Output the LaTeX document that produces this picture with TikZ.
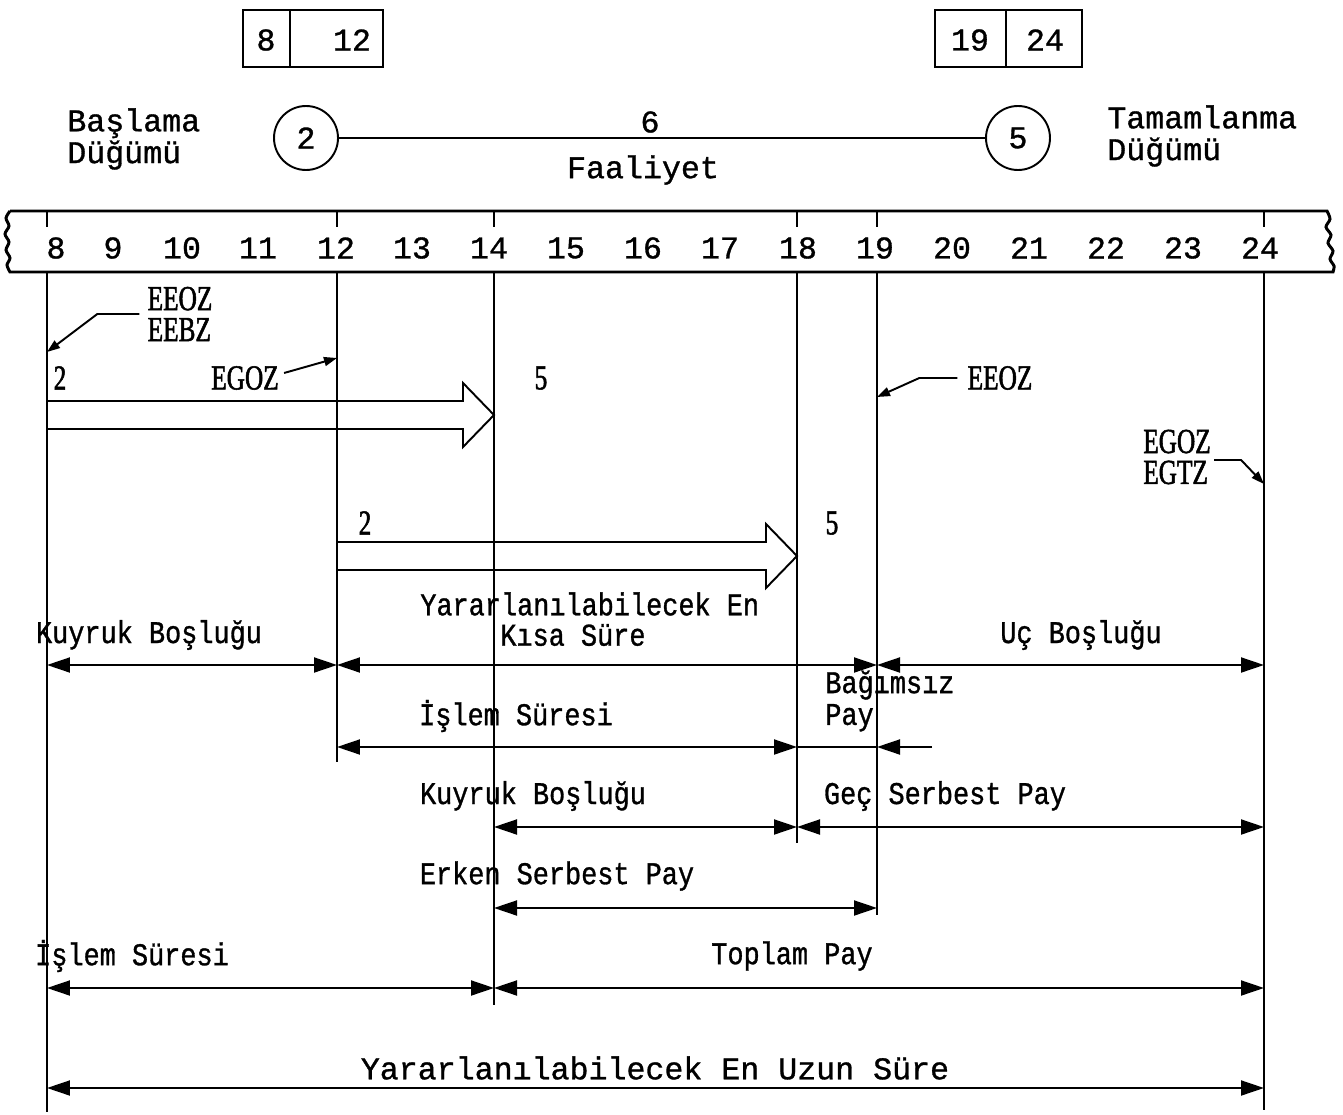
\documentclass[tikz,border=0pt]{standalone}
\usepackage{fontspec}
\usetikzlibrary{arrows.meta,calc}
\newfontfamily\tw[FakeBold=1]{Liberation Mono}
\newfontfamily\twn[FakeStretch=0.85,FakeBold=1]{Liberation Mono}
\newfontfamily\srf[FakeStretch=0.72,FakeBold=1.5]{Liberation Serif}
\begin{document}
\begin{tikzpicture}[x=0.02cm,y=-0.02cm,
  ln/.style={line width=1.1pt},
  bar/.style={line width=1.7pt},
  big/.style={font=\tw\fontsize{18}{18.1}\selectfont, inner sep=0pt},
  mid/.style={font=\twn\fontsize{18}{18.1}\selectfont, inner sep=0pt},
  lbl/.style={font=\srf\fontsize{20}{17.6}\selectfont, inner sep=0pt},
  dim/.style={line width=1.1pt,{Triangle[length=0.46cm,width=0.30cm]}-{Triangle[length=0.46cm,width=0.30cm]}},
  dimr/.style={line width=1.1pt,-{Triangle[length=0.46cm,width=0.30cm]}},
  leader/.style={line width=1.1pt,-{Triangle[length=0.26cm,width=0.18cm]}},
  knot/.style={circle, draw, line width=1.1pt, minimum size=1.28cm, inner sep=0pt, font=\tw\fontsize{18}{18.1}\selectfont}
]
\useasboundingbox (0,0) rectangle (1343,1115);

% top boxes
\draw[ln] (243,10) rectangle (383,67);
\draw[ln] (290,10) -- (290,67);
\node[big] (v8) at (266,40) {8};
\node[big] (v12) at (352,40) {12};
\draw[ln] (935,10) rectangle (1082,67);
\draw[ln] (1006,10) -- (1006,67);
\node[big] (v19) at (970,40) {19};
\node[big] (v24) at (1045,40) {24};

% activity
\node[knot] (n2) at (306,138) {2};
\node[knot] (n5) at (1018,138) {5};
\draw[ln] (n2) -- (n5);
\node[big] (six) at (650,122) {6};
\node[big] (faal) at (643,170) {Faaliyet};
\node[big, align=left, anchor=west] (bas) at (67,139) {Başlama\\Düğümü};
\node[big, align=left, anchor=west] (tam) at (1107,136) {Tamamlanma\\Düğümü};

% scale bar
\draw[bar] (10,211) -- (1327,211)
  -- plot[smooth] coordinates {(1327,211) (1330,219) (1326,227) (1331,235) (1328,243) (1333,251) (1330,259) (1334,266) (1333,272)}
  -- (10,272)
  -- plot[smooth] coordinates {(10,272) (7,265) (10,258) (6,250) (9,242) (5,234) (9,226) (6,218) (10,211)};
\foreach \t/\x in {8/56,9/113,10/182,11/258,12/336,13/412,14/489,15/566,16/643,17/720,18/798,19/875,20/952,21/1029,22/1106,23/1183,24/1260}
  \node[big] (s\t) at (\x,248) {\t};

% vertical lines
\foreach \n/\x/\yb in {8/47/1112,12/337/762,14/494/1005,18/797/843,19/877/915,24/1264/1110}{
  \coordinate (T\n) at (\x,211);
  \coordinate (L\n) at (\x,272);
  \coordinate (B\n) at (\x,\yb);
  \draw[ln] (T\n) -- ++(0,16);
  \draw[ln] (L\n) -- (B\n);
}

% labels and leaders
\node[lbl, align=left] (ee1) at (180,314) {EEOZ\\EEBZ};
\draw[leader] ([xshift=-0.16cm]ee1.west) -- ++(-42,0) -- (L8 |- 0,352);
\node[lbl] (two1) at (60,378) {2};
\node[lbl] (eg1) at (245,378) {EGOZ};
\draw[leader] ($(eg1.east)+(5,-5)$) -- (L12 |- 0,358);
\node[lbl] (five1) at (541,378) {5};
\node[lbl] (ee2) at (1000,378) {EEOZ};
\draw[leader] ([xshift=-0.2cm]ee2.west) -- ++(-38,0) -- (L19 |- 0,397);
\node[lbl, align=left] (eg2) at (1177,457) {EGOZ\\EGTZ};
\draw[leader] ($(eg2.east)+(3,3)$) -- ++(27,0) -- (L24 |- 0,484);
\node[lbl] (two2) at (365,523) {2};
\node[lbl] (five2) at (832,523) {5};

% hollow arrows
\draw[ln] (L8 |- 0,401) -- (463,401) -- (463,383) -- (L14 |- 0,415) -- (463,447) -- (463,429) -- (L8 |- 0,429);
\draw[ln] (L12 |- 0,542) -- (766,542) -- (766,524) -- (L18 |- 0,556) -- (766,588) -- (766,570) -- (L12 |- 0,570);

% dimension rows
\coordinate (r1) at (0,665);
\coordinate (r2) at (0,747);
\coordinate (r3) at (0,827);
\coordinate (r4) at (0,908);
\coordinate (r5) at (0,988);
\coordinate (r6) at (0,1088);
\coordinate (bp) at (932,747);

\node[mid] (kb1) at (149,635) {Kuyruk Boşluğu};
\draw[dim] (L8 |- r1) -- (L12 |- r1);
\node[mid, anchor=west] (yk1) at (420,604) {Yararlanılabilecek En};
\node[mid, anchor=west] (yk2) at (500,635) {Kısa Süre};
\draw[dim] (L12 |- r1) -- (L19 |- r1);
\node[mid] (ub) at (1081,635) {Uç Boşluğu};
\draw[dim] (L19 |- r1) -- (L24 |- r1);

\node[mid] (is1) at (516,716) {İşlem Süresi};
\draw[dim] (L12 |- r2) -- (L18 |- r2);
\node[mid, align=left, anchor=west] (bag) at (825,701) {Bağımsız\\Pay};
\draw[ln] (L18 |- r2) -- (L19 |- r2);
\draw[dimr] (bp) -- (L19 |- r2);

\node[mid] (kb2) at (533,796) {Kuyruk Boşluğu};
\draw[dim] (L14 |- r3) -- (L18 |- r3);
\node[mid] (gsp) at (945,796) {Geç Serbest Pay};
\draw[dim] (L18 |- r3) -- (L24 |- r3);

\node[mid] (esp) at (557,876) {Erken Serbest Pay};
\draw[dim] (L14 |- r4) -- (L19 |- r4);

\node[mid] (is2) at (132,956) {İşlem Süresi};
\draw[dim] (L8 |- r5) -- (L14 |- r5);
\node[mid] (tp) at (792,956) {Toplam Pay};
\draw[dim] (L14 |- r5) -- (L24 |- r5);

\node[big] (yeu) at (655,1068) {Yararlanılabilecek En Uzun Süre};
\draw[dim] (L8 |- r6) -- (L24 |- r6);
\end{tikzpicture}
\end{document}
